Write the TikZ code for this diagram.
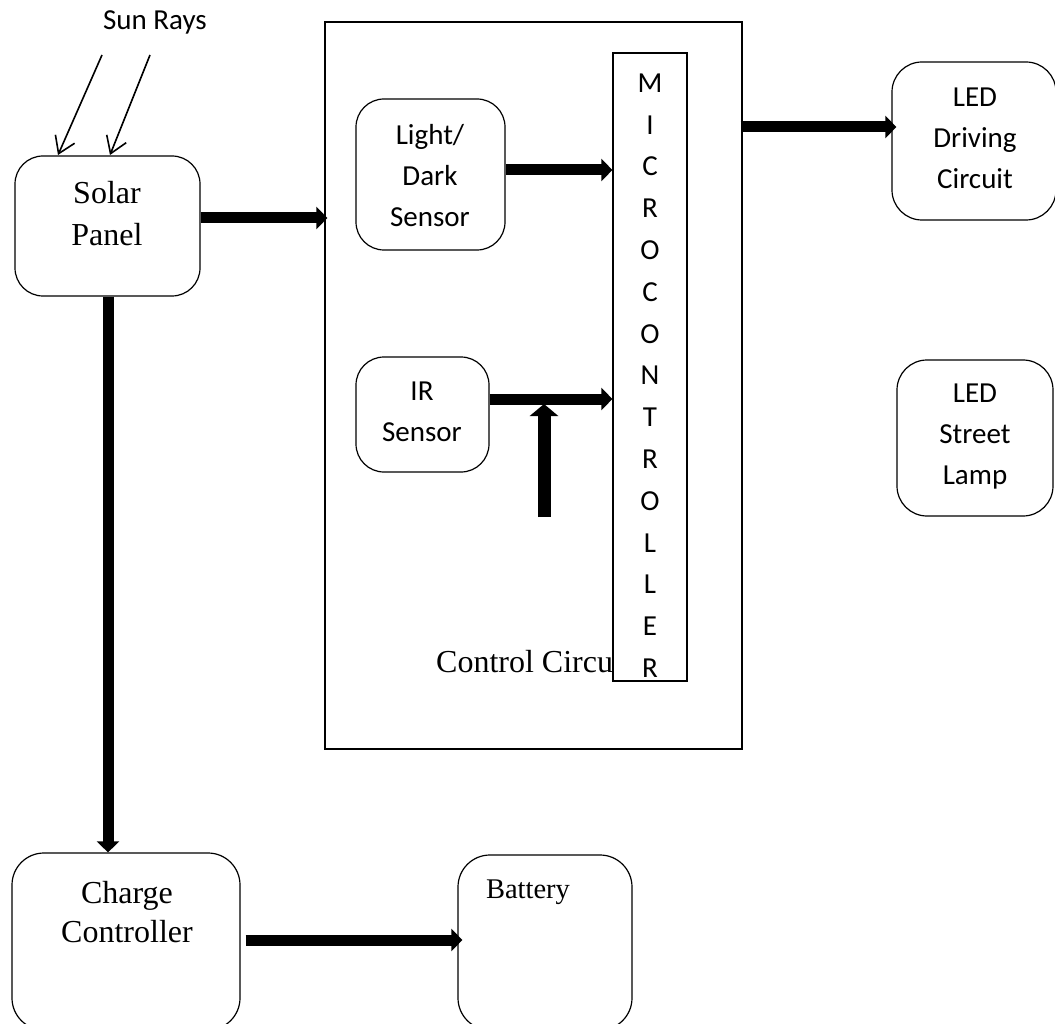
\documentclass[tikz,border=0pt]{standalone}
\usepackage{fontspec}
\setmainfont{Liberation Serif}
\newfontfamily\calibri{Carlito}
\usetikzlibrary{arrows.meta}
\tikzset{
  rbox/.style={draw, line width=1.2pt, rounded corners=#1, inner sep=0pt},
  rbox/.default=28pt,
  sbox/.style={draw, line width=1.2pt, inner sep=0pt},
  fat/.style={line width=11pt, -{Triangle[length=11pt,width=22pt]}},
  ray/.style={line width=1.6pt, -{Straight Barb[length=16pt,width=21pt]}},
  cal/.style={font=\calibri\fontsize{29}{41}\selectfont, align=center, inner sep=0pt},
  tms/.style={font=\fontsize{32}{41}\selectfont, align=center, inner sep=0pt}
}
\begin{document}
\begin{tikzpicture}[x=1pt,y=-1pt]
\useasboundingbox (0,0) rectangle (1055,1024);
% boxes
\node[rbox, minimum width=185pt, minimum height=140pt] (solar) at (107.5,226) {};
\node[sbox, minimum width=417pt, minimum height=727pt] (ctrl) at (533.5,385.5) {};
\node[rbox, minimum width=149pt, minimum height=151pt] (ld) at (430.5,174.5) {};
\node[rbox, minimum width=133pt, minimum height=115pt] (ir) at (422.5,414.5) {};
\node[rbox=30pt, minimum width=164pt, minimum height=158pt] (led) at (974,141) {};
\node[rbox=30pt, minimum width=156pt, minimum height=156pt] (lamp) at (975,438) {};
\node[rbox=32pt, minimum width=228pt, minimum height=177pt] (charge) at (126,941.5) {};
\node[rbox=32pt, minimum width=174pt, minimum height=175pt] (batt) at (545,942.5) {};
% texts
\node[cal] (suntxt) at (155,22) {Sun Rays};
\node[tms, font=\fontsize{32}{42}\selectfont] (solartxt) at (107,214) {Solar\\Panel};
\node[cal] (ldtxt) at (430,176) {Light/\\Dark\\Sensor};
\node[cal] (irtxt) at (422,412) {IR\\Sensor};
\node[cal] (ledtxt) at (975,138.5) {LED\\Driving\\Circuit};
\node[cal] (lamptxt) at (975,436.5) {LED\\Street\\Lamp};
\node[tms, font=\fontsize{32}{39}\selectfont] (chargetxt) at (127,912) {Charge\\Controller};
\node[tms, font=\fontsize{28.5}{34}\selectfont] (batttxt) at (528,892) {Battery};
\node[tms, anchor=west] (ctrltxt) at (436,662) {Control Circuit};
% microcontroller
\node[sbox, fill=white, minimum width=74pt, minimum height=628pt] (mc) at (650,367) {};
\node[cal, font=\calibri\fontsize{29}{41.8}\selectfont] (mctxt) at (650,375.5)
  {M\\I\\C\\R\\O\\C\\O\\N\\T\\R\\O\\L\\L\\E\\R};
% sun rays
\coordinate (r1s) at (102,55);
\coordinate (r1e) at (58,155);
\coordinate (r2s) at (150,55);
\coordinate (r2e) at (110,155);
\draw[ray] (r1s) -- (r1e);
\draw[ray] (r2s) -- (r2e);
% thick connectors
\draw[fat] (solar.east |- 0,218) -- ([xshift=3pt]ctrl.west |- 0,218);
\draw[fat] (ld.east |- 0,170) -- (mc.west |- 0,170);
\draw[fat] (ir.east |- 0,399) -- (mc.west |- 0,399);
\coordinate (upsrc) at (544,517);
\coordinate (upend) at (544,404);
\draw[line width=13pt, -{Triangle[length=12pt,width=28pt]}] (upsrc) -- (upend);
\draw[fat] ([xshift=-2pt]ctrl.east |- 0,127) -- ([xshift=5pt]led.west |- 0,127);
\draw[fat] (solar.south -| 108,0) -- (charge.north -| 108,0);
\draw[fat] ([xshift=5pt]charge.east |- 0,940) -- ([xshift=5pt]batt.west |- 0,940);
\end{tikzpicture}
\end{document}
